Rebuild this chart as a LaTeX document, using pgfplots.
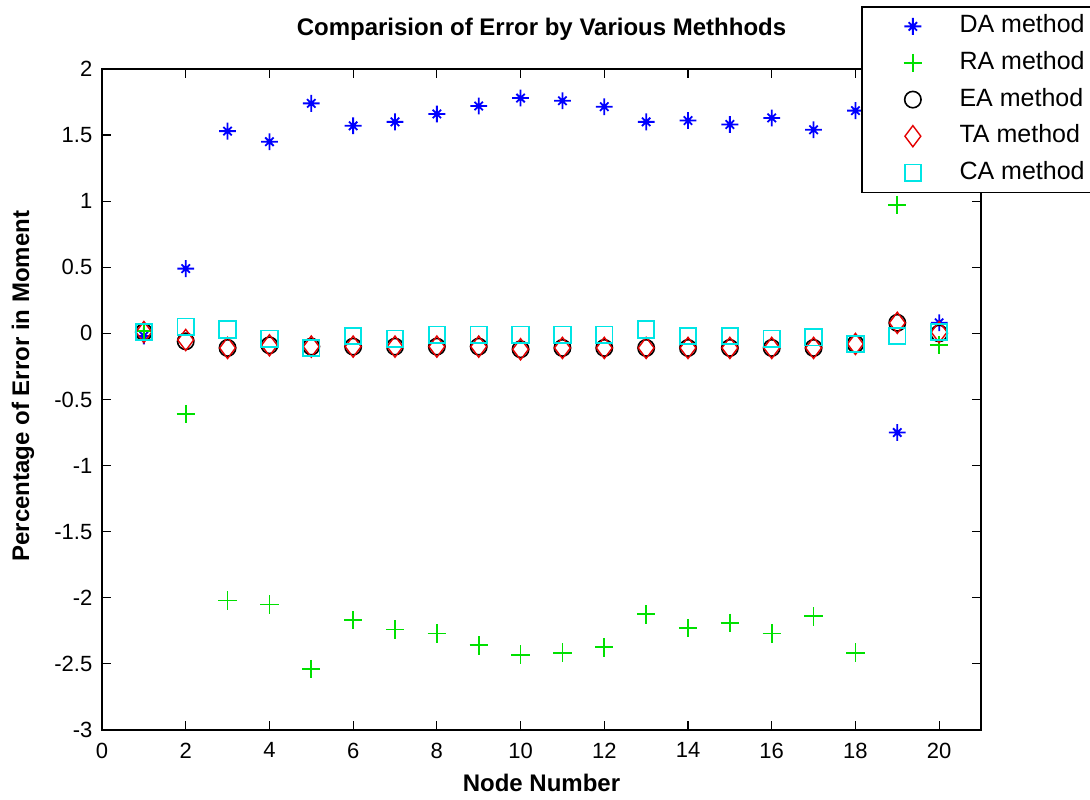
\documentclass[border=0pt]{standalone}
\usepackage{pgfplots}
\pgfplotsset{compat=1.18}
\usepackage{fontspec}
\setmainfont{Liberation Sans}
\usetikzlibrary{calc}
\definecolor{mblue}{rgb}{0,0,1}
\definecolor{mgreen}{rgb}{0,0.88,0}
\definecolor{mred}{rgb}{0.9,0,0}
\definecolor{mcyan}{rgb}{0,0.9,0.9}
\pgfdeclareplotmark{mstar}{%
  \pgfpathmoveto{\pgfqpoint{-\pgfplotmarksize}{0pt}}%
  \pgfpathlineto{\pgfqpoint{\pgfplotmarksize}{0pt}}%
  \pgfpathmoveto{\pgfqpoint{0pt}{-\pgfplotmarksize}}%
  \pgfpathlineto{\pgfqpoint{0pt}{\pgfplotmarksize}}%
  \pgfpathmoveto{\pgfqpoint{-0.5\pgfplotmarksize}{-0.5\pgfplotmarksize}}%
  \pgfpathlineto{\pgfqpoint{0.5\pgfplotmarksize}{0.5\pgfplotmarksize}}%
  \pgfpathmoveto{\pgfqpoint{-0.5\pgfplotmarksize}{0.5\pgfplotmarksize}}%
  \pgfpathlineto{\pgfqpoint{0.5\pgfplotmarksize}{-0.5\pgfplotmarksize}}%
  \pgfusepathqstroke}
\pgfdeclareplotmark{mdiam}{%
  \pgfpathmoveto{\pgfqpoint{0pt}{\pgfplotmarksize}}%
  \pgfpathlineto{\pgfqpoint{0.75\pgfplotmarksize}{0pt}}%
  \pgfpathlineto{\pgfqpoint{0pt}{-\pgfplotmarksize}}%
  \pgfpathlineto{\pgfqpoint{-0.75\pgfplotmarksize}{0pt}}%
  \pgfpathclose
  \pgfusepathqstroke}
\pgfplotsset{
  mylegend/.style={legend image code/.code={\draw[##1] plot coordinates {(22pt,0pt)}; \path (0pt,0pt) (44pt,0pt);}},
}
\begin{document}
\begin{tikzpicture}
\begin{axis}[
  name=ax,
  scale only axis,
  width=439.5pt, height=330.5pt,
  xmin=0, xmax=21, ymin=-3, ymax=2,
  xtick={0,2,...,20},
  ytick={-3,-2.5,-2,-1.5,-1,-0.5,0,0.5,1,1.5,2},
  yticklabels={-3,-2.5,-2,-1.5,-1,-0.5,0,0.5,1,1.5,2},
  xticklabels={0,2,4,6,8,10,12,14,16,18,20},
  tick align=inside,
  major tick length=4.5pt,
  tick style={black, line width=0.6pt},
  axis line style={line width=0.7pt},
  ticklabel style={font=\fontsize{11}{13}\selectfont},
  yticklabel style={xshift=-1.3pt},
  xticklabel style={yshift=-2.8pt},
  title={\textbf{Comparision of Error by Various Methhods}},
  title style={font=\fontsize{12}{14}\selectfont, at={(axis description cs:0.5,1)}, anchor=base, yshift=10.5pt},
  xlabel={\textbf{Node Number}},
  xlabel style={font=\fontsize{12}{14}\selectfont, at={(axis description cs:0.5,0)}, anchor=base, yshift=-30.8pt},
  ylabel={\textbf{Percentage of Error in Moment}},
  ylabel style={font=\fontsize{12}{14}\selectfont, at={([xshift=-39.5pt]axis description cs:0,0.52)}, anchor=center},
  legend cell align=left,
  legend style={at={(axis description cs:0.864,0.8124)}, anchor=south west,
    draw=black, line width=0.7pt, fill=white, inner sep=3pt,
    font=\fontsize{12.5}{14}\selectfont, row sep=4.8pt,
    nodes={inner sep=1pt, text height=9pt, text depth=2.5pt}},
]
\addplot[only marks, mylegend, mark=mstar, mark size=4.2pt, color=mblue, mark options={line width=0.9pt}] coordinates {
(1,-0.02) (2,0.49) (3,1.53) (4,1.45) (5,1.74) (6,1.57) (7,1.60) (8,1.66) (9,1.72) (10,1.78)
(11,1.76) (12,1.715) (13,1.60) (14,1.61) (15,1.58) (16,1.63) (17,1.54) (18,1.685) (19,-0.75) (20,0.08)};
\addlegendentry{DA method}
\addplot[only marks, mylegend, mark=+, mark size=4.6pt, color=mgreen, mark options={line width=0.9pt}] coordinates {
(1,0.02) (2,-0.61) (3,-2.02) (4,-2.05) (5,-2.54) (6,-2.17) (7,-2.24) (8,-2.27) (9,-2.36) (10,-2.43)
(11,-2.415) (12,-2.375) (13,-2.125) (14,-2.23) (15,-2.19) (16,-2.27) (17,-2.14) (18,-2.415) (19,0.97) (20,-0.09)};
\addlegendentry{RA method}
\addplot[only marks, mylegend, mark=o, mark size=4.1pt, color=black, mark options={line width=0.8pt, fill=none}] coordinates {
(1,0.01) (2,-0.06) (3,-0.11) (4,-0.09) (5,-0.10) (6,-0.10) (7,-0.10) (8,-0.10) (9,-0.10) (10,-0.12)
(11,-0.11) (12,-0.11) (13,-0.11) (14,-0.11) (15,-0.11) (16,-0.11) (17,-0.11) (18,-0.08) (19,0.08) (20,0.00)};
\addlegendentry{EA method}
\addplot[only marks, mylegend, mark=mdiam, mark size=5.3pt, color=mred, mark options={line width=0.7pt}] coordinates {
(1,0.01) (2,-0.05) (3,-0.11) (4,-0.09) (5,-0.10) (6,-0.10) (7,-0.10) (8,-0.10) (9,-0.10) (10,-0.12)
(11,-0.11) (12,-0.11) (13,-0.11) (14,-0.11) (15,-0.11) (16,-0.11) (17,-0.11) (18,-0.08) (19,0.08) (20,0.01)};
\addlegendentry{TA method}
\addplot[only marks, mylegend, mark=square, mark size=4.1pt, color=mcyan, mark options={line width=0.9pt, fill=none}] coordinates {
(1,0.01) (2,0.05) (3,0.03) (4,-0.04) (5,-0.11) (6,-0.02) (7,-0.04) (8,-0.01) (9,-0.01) (10,-0.01)
(11,-0.01) (12,-0.01) (13,0.03) (14,-0.02) (15,-0.02) (16,-0.04) (17,-0.03) (18,-0.08) (19,-0.02) (20,0.01)};
\addlegendentry{CA method}
\end{axis}
\pgfresetboundingbox
\path[use as bounding box] ($(ax.south west)+(-51pt,-35pt)$) rectangle ($(ax.north east)+(54.5pt,34.5pt)$);
\end{tikzpicture}
\end{document}
